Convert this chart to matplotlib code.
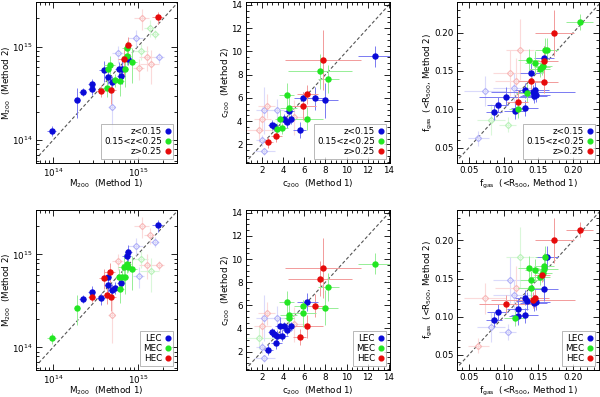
import numpy as np
import matplotlib
matplotlib.use('Agg')
import matplotlib.pyplot as plt
from matplotlib.ticker import FixedLocator, LogLocator, MultipleLocator, FuncFormatter, NullFormatter, FormatStrFormatter
from matplotlib.lines import Line2D

plt.rcParams['font.family'] = ['DejaVu Sans']
plt.rcParams['mathtext.default'] = 'regular'

# ---------------- M200 (units of 1e14 Msun) ----------------
m_x = [0.97, 1.93, 2.25, 2.85, 2.85, 3.7, 3.94, 4.4, 4.7, 4.4, 4.9, 5.36, 6.2, 4.28, 4.77,
       5.93, 6.6, 6.97, 6.4, 6.84, 7.7, 7.36, 8.58, 7.5, 7.76, 17.3]
m_y = [1.26, 2.68, 3.29, 3.49, 3.95, 3.37, 5.6, 5.7, 6.38, 4.68, 4.17, 4.39, 4.25, 3.63, 3.48,
       5.75, 5.75, 5.75, 4.87, 7.4, 7.3, 7.9, 6.88, 9.55, 10.5, 20.5]
m_xe = [0.12, 0.08, 0.1, 0.1, 0.1, 0.12, 0.12, 0.1, 0.15, 0.1, 0.1, 0.1, 0.12, 0.15, 0.15,
        0.1, 0.1, 0.1, 0.1, 0.15, 0.12, 0.12, 0.15, 0.12, 0.1, 0.15]
m_ye = [0.13, 0.35, 0.1, 0.12, 0.15, 0.15, 0.25, 0.2, 0.25, 0.15, 0.15, 0.15, 0.3, 0.2, 0.3,
        0.2, 0.3, 0.35, 0.15, 0.35, 0.12, 0.2, 0.4, 0.2, 0.2, 0.15]
m_z = [0, 0, 0, 0, 0, 2, 0, 1, 1, 0, 0, 1, 1, 1, 2, 0, 0, 1, 0, 2, 0, 1, 1, 1, 2, 2]
m_ec = [1, 1, 0, 2, 0, 0, 2, 0, 2, 0, 0, 0, 1, 2, 2, 1, 1, 1, 0, 1, 1, 1, 1, 0, 0, 0]
# excluded (faded) clusters
mf_x = [4.94, 5.8, 9.6, 17.7, 14.0, 15.8, 11.0, 11.3, 10.4, 13.0, 14.2]
mf_y = [2.24, 8.45, 12.4, 7.66, 16.0, 13.6, 9.0, 20.0, 5.84, 7.76, 6.6]
mf_xe = [0.1, 0.15, 0.2, 0.15, 0.15, 0.12, 0.2, 0.2, 0.15, 0.2, 0.25]
mf_ye = [0.5, 0.2, 0.2, 0.12, 0.2, 0.12, 0.2, 0.25, 0.25, 0.3, 0.4]
mf_z = [0, 0, 0, 0, 1, 1, 1, 2, 2, 2, 2]
mf_ec = [2, 2, 0, 2, 2, 0, 1, 2, 0, 2, 1]

# ---------------- c200 ----------------
c_x = [12.69, 5.87, 7.03, 8.0, 4.55, 4.13, 4.76, 4.36, 3.0, 3.16, 5.58,
       7.5, 8.28, 4.36, 4.55, 6.25, 3.7, 3.92, 3.42,
       7.78, 6.3, 5.92, 3.38, 2.62]
c_y = [9.6, 5.97, 5.97, 5.79, 4.9, 4.18, 4.18, 3.9, 3.66, 3.55, 3.27,
       8.3, 7.6, 6.25, 5.16, 4.2, 4.2, 3.38, 3.35,
       9.25, 6.3, 5.3, 2.72, 2.17]
c_xe = [1.6, 0.8, 0.8, 1.2, 0.5, 0.6, 0.6, 0.5, 0.4, 0.4, 0.6,
        3.0, 1.0, 0.7, 0.8, 1.5, 0.5, 0.5, 0.5,
        3.6, 1.0, 1.2, 0.5, 0.4]
c_ye = [0.9, 0.5, 1.0, 1.5, 0.5, 0.4, 0.4, 0.5, 0.4, 0.4, 0.7,
        1.5, 1.2, 1.0, 1.0, 1.0, 0.8, 0.5, 0.5,
        2.6, 0.8, 1.2, 0.5, 0.5]
c_z = [0] * 11 + [1] * 8 + [2] * 5
c_ec = [1, 1, 2, 1, 1, 0, 0, 0, 0, 0, 2,
        2, 1, 1, 1, 2, 0, 0, 0,
        2, 0, 1, 0, 0]
cf_x = [1.75, 2.22, 2.48, 3.47, 2.05, 2.22, 2.05, 5.05]
cf_y = [3.2, 4.93, 5.3, 4.93, 4.18, 1.4, 2.35, 4.35]
cf_xe = [1.5, 0.8, 0.8, 0.6, 0.8, 1.0, 0.6, 1.5]
cf_ye = [1.0, 2.0, 1.0, 1.0, 1.0, 0.3, 0.5, 1.5]
cf_z = [2, 0, 2, 0, 2, 0, 0, 2]
cf_ec = [1, 0, 2, 0, 2, 0, 0, 2]

# ---------------- fgas (<R500) ----------------
f_x = [0.086, 0.0913, 0.104, 0.116, 0.130, 0.131, 0.139, 0.142, 0.143, 0.145, 0.146, 0.158,
       0.120, 0.133, 0.136, 0.145, 0.152, 0.155, 0.157, 0.160, 0.163, 0.209,
       0.173, 0.158, 0.140, 0.158, 0.120]
f_y = [0.096, 0.106, 0.1166, 0.098, 0.1017, 0.125, 0.148, 0.122, 0.118, 0.125, 0.119, 0.167,
       0.101, 0.121, 0.164, 0.161, 0.152, 0.155, 0.157, 0.178, 0.178, 0.214,
       0.200, 0.163, 0.137, 0.136, 0.110]
f_xe = [0.012, 0.015, 0.04, 0.015, 0.02, 0.015, 0.015, 0.06, 0.02, 0.02, 0.02, 0.015,
        0.012, 0.015, 0.015, 0.015, 0.015, 0.012, 0.012, 0.015, 0.015, 0.02,
        0.028, 0.02, 0.02, 0.02, 0.015]
f_ye = [0.01, 0.01, 0.012, 0.01, 0.01, 0.01, 0.012, 0.01, 0.01, 0.012, 0.01, 0.015,
        0.012, 0.012, 0.015, 0.015, 0.01, 0.01, 0.01, 0.015, 0.015, 0.01,
        0.03, 0.02, 0.015, 0.015, 0.015]
f_z = [0] * 12 + [1] * 10 + [2] * 5
f_ec = [0, 0, 2, 1, 0, 0, 1, 2, 0, 2, 0, 1,
        0, 0, 1, 1, 1, 2, 1, 1, 0, 2,
        2, 1, 1, 0, 0]
ff_x = [0.073, 0.0636, 0.082, 0.106, 0.123, 0.109, 0.118, 0.115]
ff_y = [0.124, 0.062, 0.0864, 0.080, 0.178, 0.148, 0.137, 0.128]
ff_xe = [0.03, 0.015, 0.02, 0.012, 0.02, 0.025, 0.03, 0.03]
ff_ye = [0.02, 0.01, 0.02, 0.01, 0.04, 0.03, 0.03, 0.02]
ff_z = [0, 0, 1, 1, 2, 2, 2, 0]
ff_ec = [2, 2, 0, 0, 1, 0, 2, 0]

z_labels = ['z<0.15', '0.15<z<0.25', 'z>0.25']
ec_labels = ['LEC', 'MEC', 'HEC']

solid_c = ['#0a0ad8', '#22e622', '#e60a0a']
err_c = ['#7a7af2', '#96ee96', '#f29a9a']
fade_mk = ['#b0b0f8', '#b8f2b8', '#f8b8b8']
fade_err = ['#dadafb', '#daf7da', '#fbdada']

FS = 6.3
W, H = 600, 397
fig = plt.figure(figsize=(6.0, 3.97), dpi=100)


def add_ax(x0, x1, y0, y1):
    return fig.add_axes([x0 / W, 1 - y1 / H, (x1 - x0) / W, (y1 - y0) / H])


def style(ax):
    ax.tick_params(which='both', direction='in', top=True, right=True, labelsize=FS,
                   width=0.6, pad=2.5)
    ax.tick_params(which='major', length=4)
    ax.tick_params(which='minor', length=2)
    for s in ax.spines.values():
        s.set_linewidth(0.7)


def place_labels(ax, ylab_px, xlab_px=14.5):
    bb = ax.get_position()
    w_px = bb.width * W
    h_px = bb.height * H
    ax.xaxis.set_label_coords(0.5, -xlab_px / h_px)
    ax.yaxis.set_label_coords(-ylab_px / w_px, 0.5)


def draw(ax, x, y, xe, ye, cls, fx, fy, fxe, fye, fcls, scale=1.0, log=False):
    for i in range(len(fx)):
        c = fcls[i]
        xv, yv = fx[i] * scale, fy[i] * scale
        if log:
            xerr, yerr = xv * fxe[i], yv * fye[i]
        else:
            xerr, yerr = fxe[i], fye[i]
        ax.errorbar(xv, yv, xerr=xerr, yerr=yerr, fmt='D', ms=3.2, mfc='none',
                    mec=fade_mk[c], mew=0.8, ecolor=fade_err[c], elinewidth=0.8,
                    capsize=0, zorder=2)
    for i in range(len(x)):
        c = cls[i]
        xv, yv = x[i] * scale, y[i] * scale
        if log:
            xerr, yerr = xv * xe[i], yv * ye[i]
        else:
            xerr, yerr = xe[i], ye[i]
        ax.errorbar(xv, yv, xerr=xerr, yerr=yerr, fmt='none', ecolor=err_c[c],
                    elinewidth=0.7, capsize=0, zorder=3)
    for c in range(3):
        xs = [x[i] * scale for i in range(len(x)) if cls[i] == c]
        ys = [y[i] * scale for i in range(len(y)) if cls[i] == c]
        ax.plot(xs, ys, 'o', ms=3.6, color=solid_c[c], mec=solid_c[c], zorder=4)


def legend(ax, labels):
    handles = [Line2D([], [], ls='none', marker='o', ms=3.4, color=solid_c[i]) for i in range(3)]
    lg = ax.legend(handles, labels, loc='lower right', markerfirst=False, frameon=True,
                   fancybox=False, edgecolor='#999999', fontsize=FS, handlelength=0.5,
                   handletextpad=0.4, labelspacing=0.12, borderpad=0.35, borderaxespad=0.45)
    lg.get_frame().set_linewidth(0.6)
    lg.set_zorder(6)


def setup_mass(ax):
    ax.set_xscale('log')
    ax.set_yscale('log')
    ax.set_xlim(6.3e13, 2.9e15)
    ax.set_ylim(5.7e13, 3.0e15)
    ax.plot([5e13, 3.1e15], [5e13, 3.1e15], ls=(0, (3, 2)), color='#555555', lw=0.8, zorder=1)
    fmt = FuncFormatter(lambda v, p: '$10^{%d}$' % int(round(np.log10(v))))
    for axis in (ax.xaxis, ax.yaxis):
        axis.set_major_locator(FixedLocator([1e14, 1e15]))
        axis.set_major_formatter(fmt)
        axis.set_minor_locator(LogLocator(base=10, subs=np.arange(2, 10)))
        axis.set_minor_formatter(NullFormatter())
    ax.set_xlabel('M$_{200}$  (Method 1)', fontsize=FS)
    ax.set_ylabel('M$_{200}$  (Method 2)', fontsize=FS)
    place_labels(ax, 23)


def setup_c(ax):
    ax.set_xlim(0.5, 14.1)
    ax.set_ylim(0.4, 14.25)
    ax.plot([0.4, 14.3], [0.4, 14.3], ls=(0, (3, 2)), color='#555555', lw=0.8, zorder=1)
    for axis in (ax.xaxis, ax.yaxis):
        axis.set_major_locator(MultipleLocator(2))
        axis.set_minor_locator(MultipleLocator(0.5))
    ax.set_xlabel('c$_{200}$  (Method 1)', fontsize=FS)
    ax.set_ylabel('c$_{200}$  (Method 2)', fontsize=FS)
    place_labels(ax, 14)


def setup_f(ax):
    ax.set_xlim(0.033, 0.237)
    ax.set_ylim(0.030, 0.240)
    ax.plot([0.02, 0.25], [0.02, 0.25], ls=(0, (3, 2)), color='#555555', lw=0.8, zorder=1)
    for axis in (ax.xaxis, ax.yaxis):
        axis.set_major_locator(MultipleLocator(0.05))
        axis.set_minor_locator(MultipleLocator(0.01))
        axis.set_major_formatter(FormatStrFormatter('%.2f'))
    ax.set_xlabel('f$_{gas}$  (<R$_{500}$, Method 1)', fontsize=FS)
    ax.set_ylabel('f$_{gas}$  (<R$_{500}$, Method 2)', fontsize=FS)
    place_labels(ax, 22)


rows = [(2, 163, m_z, c_z, f_z, mf_z, cf_z, ff_z, z_labels),
        (210, 370, m_ec, c_ec, f_ec, mf_ec, cf_ec, ff_ec, ec_labels)]
for (y0, y1, mc, cc, fc, mfc, cfc, ffc, labels) in rows:
    ax1 = add_ax(36, 177, y0, y1)
    style(ax1)
    setup_mass(ax1)
    draw(ax1, m_x, m_y, m_xe, m_ye, mc, mf_x, mf_y, mf_xe, mf_ye, mfc, scale=1e14, log=True)
    legend(ax1, labels)

    ax2 = add_ax(246, 390, y0, y1)
    style(ax2)
    setup_c(ax2)
    draw(ax2, c_x, c_y, c_xe, c_ye, cc, cf_x, cf_y, cf_xe, cf_ye, cfc)
    legend(ax2, labels)

    ax3 = add_ax(457, 599, y0, y1)
    style(ax3)
    setup_f(ax3)
    draw(ax3, f_x, f_y, f_xe, f_ye, fc, ff_x, ff_y, ff_xe, ff_ye, ffc)
    legend(ax3, labels)

fig.savefig('out.png', dpi=100)
